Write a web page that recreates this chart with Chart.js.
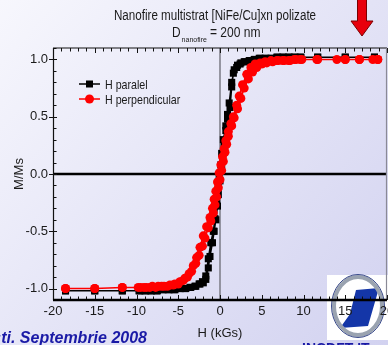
<!DOCTYPE html>
<html>
<head>
<meta charset="utf-8">
<title>Nanofire multistrat [NiFe/Cu]xn polizate</title>
<script src="https://cdn.jsdelivr.net/npm/chart.js@4.4.1/dist/chart.umd.min.js"></script>
<style>
  html, body { margin: 0; padding: 0; background: #e4e4f6; overflow: hidden; }
  #grafic { display: block; }
</style>
</head>
<body>
<canvas id="grafic" width="388" height="345"></canvas>
<script>
// bucla de histerezis, camp H (kGs) si M/Ms, pe ramuri
const hParalelJos = [18.5, 15.0, 11.7, 9.7, 9.0, 8.3, 7.6, 6.9, 6.2, 5.5, 4.8, 4.2, 3.6, 3.0, 2.5, 2.1, 1.7, 1.4, 1.1, 0.9, 0.7, 0.4, 0.2, 0.1, -0.1, -0.2, -0.4, -0.6, -0.8, -1.1, -1.4, -1.7, -2.1, -2.5, -3.0, -3.6, -4.2, -4.8, -5.5, -6.2, -6.9, -7.6, -8.3, -9.0, -9.7, -11.7, -15.0, -18.5];
const mParalelJos = [1.02, 1.02, 1.02, 1.02, 1.02, 1.02, 1.02, 1.02, 1.01, 1.01, 1.01, 1.00, 0.99, 0.98, 0.97, 0.95, 0.91, 0.80, 0.62, 0.52, 0.42, 0.30, 0.18, 0.08, -0.04, -0.12, -0.26, -0.39, -0.50, -0.60, -0.74, -0.89, -0.94, -0.96, -0.98, -0.99, -1.00, -1.00, -1.01, -1.01, -1.01, -1.02, -1.02, -1.02, -1.02, -1.02, -1.02, -1.02];
const hParalelSus = [-18.5, -15.0, -11.7, -9.6, -8.9, -8.2, -7.5, -6.8, -6.1, -5.4, -4.7, -4.1, -3.5, -2.9, -2.4, -2.0, -1.7, -1.4, -1.2, -0.9, -0.7, -0.5, -0.3, -0.2, 0.0, 0.2, 0.3, 0.5, 0.7, 0.9, 1.2, 1.4, 1.6, 2.0, 2.4, 2.9, 3.5, 4.1, 4.7, 5.4, 6.1, 6.8, 7.5, 8.2, 8.9, 9.6, 11.7, 15.0, 18.5];
const mParalelSus = [-1.02, -1.02, -1.02, -1.02, -1.02, -1.02, -1.02, -1.01, -1.01, -1.01, -1.00, -1.00, -0.99, -0.98, -0.96, -0.95, -0.92, -0.82, -0.72, -0.60, -0.50, -0.40, -0.28, -0.18, -0.06, 0.05, 0.12, 0.26, 0.38, 0.48, 0.58, 0.76, 0.88, 0.93, 0.96, 0.98, 0.99, 1.00, 1.01, 1.01, 1.01, 1.02, 1.02, 1.02, 1.02, 1.02, 1.02, 1.02, 1.02];

const hPerpJos = [18.9, 18.3, 16.7, 15.0, 14.0, 11.6, 9.6, 8.9, 8.2, 7.5, 6.8, 6.1, 5.4, 4.8, 4.2, 3.7, 3.2, 2.7, 2.3, 2.0, 1.6, 1.3, 1.0, 0.7, 0.5, 0.3, 0.1, -0.1, -0.3, -0.5, -0.7, -0.9, -1.2, -1.6, -2.0, -2.4, -2.8, -3.2, -3.7, -4.2, -4.8, -5.4, -6.0, -6.7, -7.4, -8.1, -8.8, -9.5, -11.7, -15.0, -18.5];
const mPerpJos = [1.00, 1.00, 1.00, 1.00, 1.00, 1.00, 1.00, 1.00, 0.99, 0.99, 0.99, 0.99, 0.98, 0.97, 0.96, 0.93, 0.87, 0.78, 0.68, 0.60, 0.50, 0.44, 0.37, 0.29, 0.22, 0.15, 0.08, 0.01, -0.07, -0.15, -0.22, -0.30, -0.38, -0.46, -0.54, -0.64, -0.73, -0.80, -0.87, -0.91, -0.94, -0.96, -0.97, -0.98, -0.98, -0.98, -0.99, -0.99, -0.99, -1.00, -1.00];
const hPerpSus = [-18.5, -15.0, -11.7, -9.8, -9.1, -8.4, -7.7, -7.0, -6.3, -5.6, -5.0, -4.4, -3.9, -3.4, -2.9, -2.5, -2.1, -1.8, -1.4, -1.1, -0.8, -0.6, -0.4, -0.2, 0.0, 0.2, 0.4, 0.6, 0.8, 1.0, 1.4, 1.7, 2.1, 2.5, 2.9, 3.4, 3.9, 4.4, 5.0, 5.6, 6.3, 7.0, 7.7, 8.4, 9.1, 9.8, 11.7, 15.0, 16.7, 18.9];
const mPerpSus = [-1.00, -1.00, -0.99, -0.99, -0.99, -0.99, -0.99, -0.98, -0.98, -0.97, -0.96, -0.93, -0.90, -0.85, -0.78, -0.71, -0.63, -0.56, -0.47, -0.41, -0.34, -0.27, -0.20, -0.12, -0.05, 0.03, 0.11, 0.19, 0.26, 0.33, 0.42, 0.49, 0.57, 0.66, 0.75, 0.83, 0.89, 0.93, 0.96, 0.97, 0.98, 0.99, 0.99, 0.99, 1.00, 1.00, 1.00, 1.00, 1.00, 1.00];

const xTicks = [-20, -15, -10, -5, 0, 5, 10, 15, 20];
const yTicks = [-1.0, -0.5, 0.0, 0.5, 1.0];

const FONT = "'Liberation Sans', Arial, sans-serif";

function bucla(hJos, mJos, hSus, mSus) {
  const pts = hJos.map((h, i) => ({ x: h, y: mJos[i] }));
  return pts.concat(hSus.map((h, i) => ({ x: h, y: mSus[i] })));
}

// text ingustat pe orizontala (fontul original e de tip "narrow")
function textIngust(ctx, txt, x, y, font, sx, align) {
  ctx.save();
  ctx.font = font;
  const w = ctx.measureText(txt).width * sx;
  let x0 = x;
  if (align === 'center') x0 = x - w / 2;
  if (align === 'right') x0 = x - w;
  ctx.translate(x0, y);
  ctx.scale(sx, 1);
  ctx.textAlign = 'left';
  ctx.fillText(txt, 0, 0);
  ctx.restore();
  return w;
}

const fundal = {
  id: 'fundal',
  beforeDraw(chart) {
    const ctx = chart.ctx;
    const W = chart.width, H = chart.height;
    ctx.save();
    const g = ctx.createLinearGradient(0, 0, W, H);
    g.addColorStop(0, '#f7f7fd');
    g.addColorStop(1, '#d2d2f0');
    ctx.fillStyle = g;
    ctx.fillRect(0, 0, W, H);

    // sigla din colt
    ctx.fillStyle = '#ffffff';
    ctx.fillRect(327, 275, 61, 65);
    ctx.fillStyle = '#1436a8';
    ctx.beginPath();
    ctx.moveTo(356, 290);
    ctx.lineTo(379, 288);
    ctx.lineTo(368, 326);
    ctx.lineTo(340, 328);
    ctx.lineTo(350, 314);
    ctx.closePath();
    ctx.fill();
    ctx.lineWidth = 4;
    ctx.strokeStyle = '#9aa3b0';
    ctx.beginPath();
    ctx.ellipse(358, 306, 24, 29, 0, 0, Math.PI * 2);
    ctx.stroke();
    ctx.lineWidth = 1;
    ctx.strokeStyle = '#3a4a8a';
    ctx.beginPath();
    ctx.ellipse(358, 306, 26.5, 31.5, 0, 0, Math.PI * 2);
    ctx.stroke();

    // subsolul slide-ului
    ctx.fillStyle = '#1a1aa6';
    ctx.font = "italic bold 16px " + FONT;
    ctx.textAlign = 'right';
    ctx.textBaseline = 'alphabetic';
    ctx.fillText('Bucuresti. Septembrie 2008', 147, 343);
    ctx.font = "bold 14px " + FONT;
    ctx.textAlign = 'left';
    ctx.fillText('INCDFT-IT', 302, 353);
    ctx.restore();
  }
};

const cadru = {
  id: 'cadru',
  beforeDatasetsDraw(chart) {
    const { ctx, chartArea: a, scales: { x, y } } = chart;
    ctx.save();
    // linia verticala H = 0
    const x0 = x.getPixelForValue(0);
    ctx.strokeStyle = '#7a7a84';
    ctx.lineWidth = 1.5;
    ctx.beginPath();
    ctx.moveTo(x0, a.top);
    ctx.lineTo(x0, a.bottom);
    ctx.stroke();
    // linia orizontala M = 0
    const y0 = y.getPixelForValue(0);
    ctx.strokeStyle = '#000';
    ctx.lineWidth = 2.5;
    ctx.beginPath();
    ctx.moveTo(a.left, y0);
    ctx.lineTo(a.right, y0);
    ctx.stroke();

    // gradatii
    ctx.lineWidth = 1;
    ctx.strokeStyle = '#111';
    ctx.beginPath();
    for (let k = -20; k <= 20; k++) {
      const px = Math.round(x.getPixelForValue(k)) + 0.5;
      const len = k % 5 === 0 ? 5 : 3.5;
      ctx.moveTo(px, a.bottom);
      ctx.lineTo(px, a.bottom - len);
      ctx.moveTo(px, a.top);
      ctx.lineTo(px, a.top + len);
    }
    for (let k = -11; k <= 11; k++) {
      const py = Math.round(y.getPixelForValue(k / 10)) + 0.5;
      if (k % 5 === 0) {
        ctx.moveTo(a.left - 4, py);
        ctx.lineTo(a.left + 4, py);
      } else {
        ctx.moveTo(a.left, py);
        ctx.lineTo(a.left + 3.5, py);
      }
    }
    ctx.stroke();

    // chenar
    ctx.strokeStyle = '#111';
    ctx.lineWidth = 1.2;
    ctx.beginPath();
    ctx.moveTo(a.left, a.top);
    ctx.lineTo(a.right, a.top);
    ctx.moveTo(a.left + 0.5, a.top);
    ctx.lineTo(a.left + 0.5, a.bottom);
    ctx.stroke();
    ctx.strokeStyle = '#8a8a96';
    ctx.beginPath();
    ctx.moveTo(a.right - 0.5, a.top);
    ctx.lineTo(a.right - 0.5, a.bottom);
    ctx.stroke();
    ctx.strokeStyle = '#000';
    ctx.lineWidth = 2.5;
    ctx.beginPath();
    ctx.moveTo(a.left, a.bottom);
    ctx.lineTo(a.right, a.bottom);
    ctx.stroke();
    ctx.restore();
  }
};

const adnotari = {
  id: 'adnotari',
  afterDraw(chart) {
    const ctx = chart.ctx;
    const ds = chart.data.datasets;
    ctx.save();
    ctx.fillStyle = '#1a1a1a';
    ctx.textBaseline = 'alphabetic';

    // titlu pe doua randuri
    textIngust(ctx, 'Nanofire multistrat [NiFe/Cu]xn polizate', 215, 20, '14px ' + FONT, 0.83, 'center');
    let cx = 172;
    cx += textIngust(ctx, 'D', cx, 37, '14px ' + FONT, 0.85, 'left');
    cx += textIngust(ctx, 'nanofire', cx + 1, 42, '7px ' + FONT, 1, 'left');
    textIngust(ctx, '= 200 nm', cx + 4, 37, '14px ' + FONT, 0.86, 'left');

    // legenda: linie cu marker
    [[0, 84], [1, 99]].forEach(([i, ly]) => {
      const d = ds[i];
      ctx.strokeStyle = d.borderColor;
      ctx.fillStyle = d.backgroundColor;
      ctx.lineWidth = 1.5;
      ctx.beginPath();
      ctx.moveTo(79, ly);
      ctx.lineTo(100, ly);
      ctx.stroke();
      if (d.pointStyle === 'rect') {
        ctx.fillRect(86, ly - 3.5, 7, 7);
      } else {
        ctx.beginPath();
        ctx.arc(89.5, ly, 4.5, 0, Math.PI * 2);
        ctx.fill();
      }
      ctx.fillStyle = '#1a1a1a';
      textIngust(ctx, d.label, 105, ly + 4.5, '13px ' + FONT, 0.82, 'left');
    });

    // sageata rosie din coltul slide-ului
    ctx.fillStyle = '#e8000c';
    ctx.strokeStyle = '#7a0000';
    ctx.lineWidth = 1;
    ctx.beginPath();
    ctx.moveTo(357.5, -1);
    ctx.lineTo(366.5, -1);
    ctx.lineTo(366.5, 21);
    ctx.lineTo(373, 21);
    ctx.lineTo(362, 36);
    ctx.lineTo(351, 21);
    ctx.lineTo(357.5, 21);
    ctx.closePath();
    ctx.fill();
    ctx.stroke();
    ctx.restore();
  }
};

new Chart(document.getElementById('grafic'), {
  type: 'scatter',
  data: {
    datasets: [
      {
        label: 'H paralel',
        data: bucla(hParalelJos, mParalelJos, hParalelSus, mParalelSus),
        showLine: true,
        borderColor: '#000000',
        backgroundColor: '#000000',
        borderWidth: 1.5,
        pointStyle: 'rect',
        pointRadius: 5,
        pointBorderWidth: 0,
        order: 2
      },
      {
        label: 'H perpendicular',
        data: bucla(hPerpJos, mPerpJos, hPerpSus, mPerpSus),
        showLine: true,
        borderColor: '#ff0000',
        backgroundColor: '#ff0000',
        borderWidth: 1.5,
        pointStyle: 'circle',
        pointRadius: 4.5,
        pointBorderWidth: 0,
        order: 1
      }
    ]
  },
  options: {
    responsive: false,
    animation: false,
    // fara autoPadding: eticheta "20" poate iesi din canvas
    layout: { autoPadding: false, padding: { top: 48, right: 1, left: 0, bottom: 0 } },
    plugins: {
      legend: { display: false },
      title: { display: false },
      tooltip: { enabled: false }
    },
    scales: {
      x: {
        type: 'linear',
        min: -20,
        max: 20,
        grid: { display: false, drawTicks: false },
        border: { display: false },
        afterBuildTicks: s => { s.ticks = xTicks.map(v => ({ value: v })); },
        afterFit: s => { s.height = 45; s.paddingLeft = 0; s.paddingRight = 0; },
        ticks: {
          autoSkip: false,
          maxRotation: 0,
          padding: 4,
          color: '#1a1a1a',
          font: { family: FONT, size: 13 },
          callback: v => String(v)
        },
        title: {
          display: true,
          text: 'H (kGs)',
          color: '#1a1a1a',
          font: { family: FONT, size: 13 },
          padding: { top: 0, bottom: 4 }
        }
      },
      y: {
        type: 'linear',
        min: -1.1,
        max: 1.1,
        grid: { display: false, drawTicks: false },
        border: { display: false },
        afterBuildTicks: s => { s.ticks = yTicks.map(v => ({ value: v })); },
        afterFit: s => { s.width = 53; s.paddingTop = 0; s.paddingBottom = 0; },
        ticks: {
          autoSkip: false,
          padding: 5,
          color: '#1a1a1a',
          font: { family: FONT, size: 13 },
          callback: v => v.toFixed(1)
        },
        title: {
          display: true,
          text: 'M/Ms',
          color: '#1a1a1a',
          font: { family: FONT, size: 13 },
          padding: { top: 12, bottom: 0 }
        }
      }
    }
  },
  plugins: [fundal, cadru, adnotari]
});
</script>
</body>
</html>
